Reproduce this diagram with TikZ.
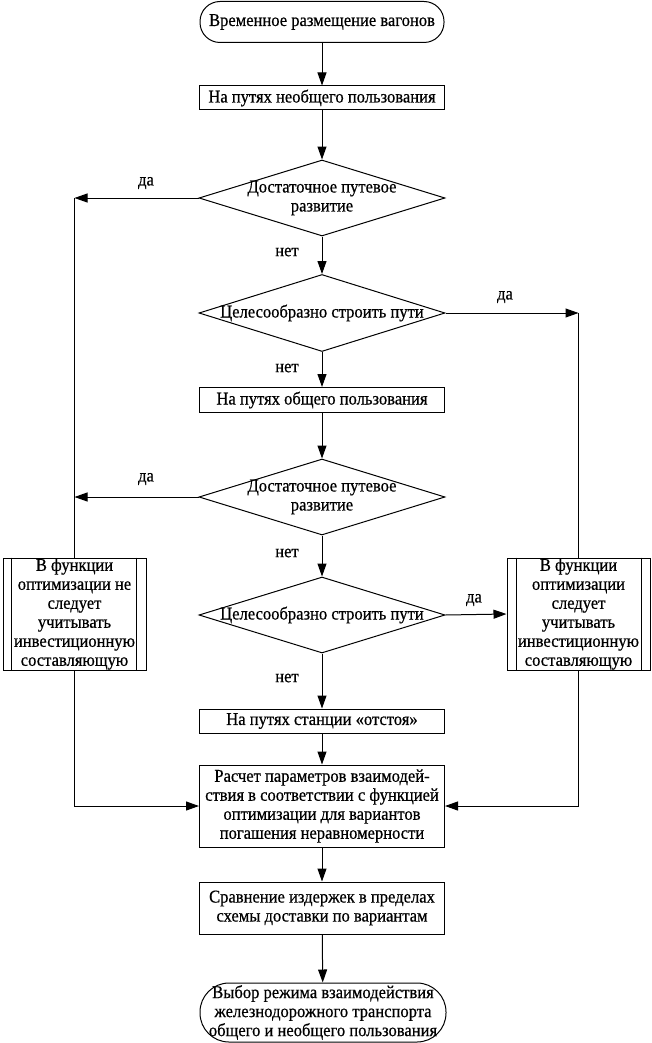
\documentclass[tikz,border=0pt]{standalone}
\usepackage{fontspec}
\setmainfont{Liberation Serif}
\newfontfamily\tnr{Liberation Serif}[FakeStretch=0.92,FakeBold=0.6]
\usetikzlibrary{shapes.geometric,arrows.meta}
\begin{document}
\begin{tikzpicture}[x=1pt,y=-1pt, line width=1pt,
  font=\tnr\fontsize{18}{19}\selectfont,
  >={Triangle[length=13pt,width=9pt]},
  box/.style={draw, minimum width=245pt, minimum height=24pt, inner sep=0pt, align=center},
  dia/.style={diamond, draw, minimum width=246pt, minimum height=76pt, inner sep=0pt},
  side/.style={draw, minimum width=143pt, minimum height=112pt, inner sep=0pt, align=center},
  lbl/.style={inner sep=1pt}]
\useasboundingbox (0,0) rectangle (651,1043);
\node[draw, rounded corners=20pt, minimum width=244pt, minimum height=41pt, inner sep=0pt] (start) at (322,22) {Временное размещение вагонов};
\node[box] (b1) at (322,98) {На путях необщего пользования};
\node[dia, label={[align=center]center:Достаточное путевое\\развитие}] (d1) at (322,198) {};
\node[dia, minimum height=77pt, label={[align=center]center:Целесообразно строить пути}] (d2) at (322,313) {};
\node[box, minimum height=25pt] (b2) at (322,400) {На путях общего пользования};
\node[dia, label={[align=center]center:Достаточное путевое\\развитие}] (d3) at (322,497) {};
\node[dia, label={[align=center]center:Целесообразно строить пути}] (d4) at (322,615) {};
\node[box] (b3) at (322,721) {На путях станции «отстоя»};
\node[box, minimum height=82pt] (calc) at (322,806) {Расчет параметров взаимодей-\\ствия в соответствии с функцией\\оптимизации для вариантов\\погашения неравномерности};
\node[box, minimum height=52pt] (cmp) at (322,908) {Сравнение издержек в пределах\\схемы доставки по вариантам};
\node[draw, rounded corners=29pt, minimum width=246pt, minimum height=59pt, inner sep=0pt, align=center] (end) at (323,1012.5) {Выбор режима взаимодействия\\железнодорожного транспорта\\общего и необщего пользования};
\node[side] (lb) at (74.5,614) {В функции\\оптимизации не\\следует\\учитывать\\инвестиционную\\составляющую};
\node[side] (rb) at (578.5,614) {В функции\\оптимизации\\следует\\учитывать\\инвестиционную\\составляющую};
\draw ([xshift=9pt]lb.north west) -- ([xshift=9pt]lb.south west);
\draw ([xshift=-10pt]lb.north east) -- ([xshift=-10pt]lb.south east);
\draw ([xshift=10pt]rb.north west) -- ([xshift=10pt]rb.south west);
\draw ([xshift=-9pt]rb.north east) -- ([xshift=-9pt]rb.south east);
% connectors
\draw[->] (start) -- (b1);
\draw[->] (b1) -- (d1);
\draw[->] (d1) -- (d2);
\draw[->] (d2) -- (b2);
\draw[->] (b2) -- (d3);
\draw[->] (d3) -- (d4);
\draw[->] (d4) -- (b3);
\draw[->] (b3) -- (calc);
\draw[->] (calc) -- (cmp);
\draw[->] (cmp) -- (end);
\draw[->] (d1.west) -- (d1.west -| lb.north);
\draw (d1.west -| lb.north) -- (lb.north);
\draw[->] (d3.west) -- (d3.west -| lb.north);
\draw[->] (d2.east) -- (d2.east -| rb.north);
\draw (d2.east -| rb.north) -- (rb.north);
\draw[->] (d4.east) -- (rb.west);
\draw[->] (lb.south) |- (calc.west);
\draw[->] (rb.south) |- (calc.east);
% labels
\node[lbl] (y1) at (146,183) {да};
\node[lbl] (n1) at (287,252) {нет};
\node[lbl] (y2) at (505,297) {да};
\node[lbl] (n2) at (287,368) {нет};
\node[lbl] (y3) at (146,479) {да};
\node[lbl] (n3) at (287,553) {нет};
\node[lbl] (y4) at (474,600) {да};
\node[lbl] (n4) at (287,678) {нет};
\end{tikzpicture}
\end{document}
